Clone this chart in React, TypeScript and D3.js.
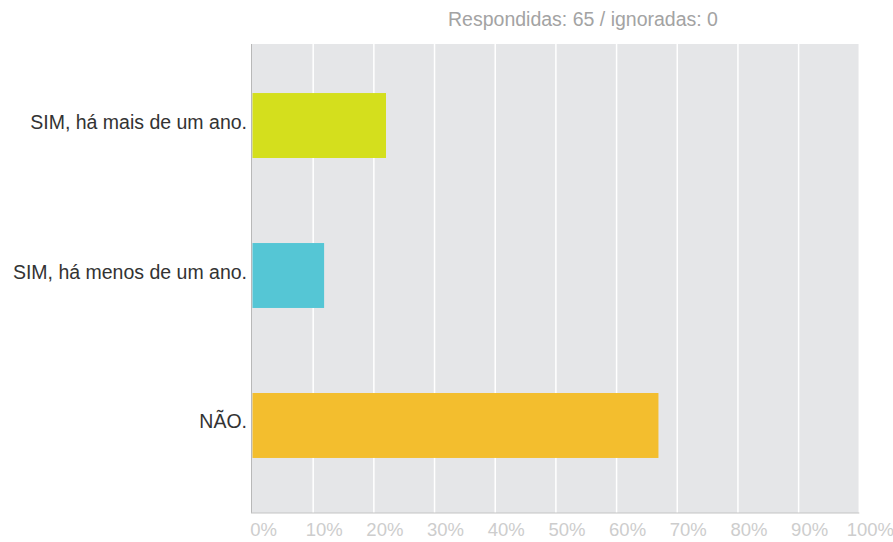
import React from "react";
import * as d3 from "d3";

const categories = ["SIM, há mais de um ano.", "SIM, há menos de um ano.", "NÃO."];
const values = [22.0, 11.8, 66.9];
const colors = ["#d4df1d", "#55c6d5", "#f3be2e"];
const ticks = [0, 10, 20, 30, 40, 50, 60, 70, 80, 90, 100];
const title = "Respondidas: 65 / ignoradas: 0";

export default function App() {
  const W = 893, H = 542;
  const left = 252.5, right = 859.3, top = 44, bottom = 513;
  const x = d3.scaleLinear().domain([0, 100]).range([left, right]);
  const y = d3
    .scaleBand<string>()
    .domain(categories)
    .range([top, 507])
    .paddingInner(0.567)
    .paddingOuter(0.327);
  const font = "'Liberation Sans', Arial, Helvetica, sans-serif";
  return (
    <svg width={W} height={H} style={{ position: "absolute", left: 0, top: 0 }} fontFamily={font}>
      <rect x={left - 1.5} y={top} width={right - left + 1.5} height={bottom - top} fill="#e5e6e8" />
      {ticks.slice(1).map((t) => (
        <line key={t} x1={x(t)} x2={x(t)} y1={top} y2={bottom} stroke="#ffffff" strokeWidth={1.5} />
      ))}
      {categories.map((c, i) => (
        <rect key={c} x={x(0)} y={y(c)} width={x(values[i]) - x(0)} height={y.bandwidth()} fill={colors[i]} />
      ))}
      <line x1={left - 1} x2={left - 1} y1={top} y2={bottom} stroke="#b8b8b8" strokeWidth={1} />
      <line x1={left - 1.5} x2={right} y1={bottom} y2={bottom} stroke="#c4c4c4" strokeWidth={1.2} />
      {categories.map((c) => (
        <text key={c} x={247} y={(y(c) as number) + y.bandwidth() / 2 + 3} textAnchor="end" fontSize={19.5} fill="#333">
          {c}
        </text>
      ))}
      {ticks.map((t) => (
        <text key={t} x={x(t) + 11} y={536} textAnchor="middle" fontSize={18.5} fill="#cdcdcd">
          {t}%
        </text>
      ))}
      <text x={583} y={26} textAnchor="middle" fontSize={19.5} fill="#a3a3a3">
        {title}
      </text>
    </svg>
  );
}
